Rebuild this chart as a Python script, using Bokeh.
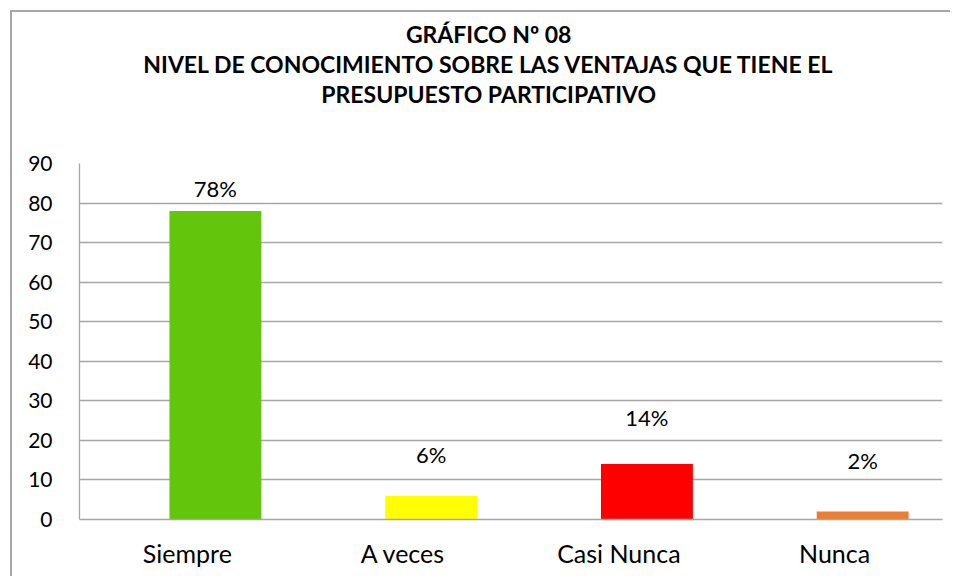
from bokeh.plotting import figure
from bokeh.models import ColumnDataSource, Title, Range1d, FixedTicker
from bokeh.transform import dodge
from bokeh.core.properties import value
from bokeh.embed import file_html
from bokeh.resources import INLINE

categories = ["Siempre", "A veces", "Casi Nunca", "Nunca"]
values = [78, 6, 14, 2]
pct_labels = ["78%", "6%", "14%", "2%"]
y_ticks = [0, 10, 20, 30, 40, 50, 60, 70, 80, 90]
title_lines = ["GRÁFICO Nº 08",
               "NIVEL DE CONOCIMIENTO SOBRE LAS VENTAJAS QUE TIENE EL",
               "PRESUPUESTO PARTICIPATIVO"]

# styles
bar_colors = ["#63C60C", "#FFFF00", "#FF0000", "#ED7D31"]
label_offsets = [5.7, 10.4, 11.8, 12.8]  # label height above bar top, in axis units
FONT = "Lato"
GRID = "#A6A6A6"
TITLE_SHIFT = "\u00a0" * 8   # nudges the centred title lines to the left

src = ColumnDataSource(dict(
    cat=categories, val=values, pct=pct_labels, color=bar_colors,
    ly=[v + o for v, o in zip(values, label_offsets)],
))

p = figure(x_range=categories, y_range=Range1d(0, 90), width=940, height=566,
           output_backend="svg", toolbar_location=None,
           min_border_left=67, min_border_right=10, min_border_top=151,
           min_border_bottom=59)
p.outline_line_color = None
p.styles = {"border-left": "2px solid #A6A6A6", "border-top": "2px solid #A6A6A6",
            "margin-left": "10px", "margin-top": "10px"}

p.vbar(x=dodge("cat", 0.13, range=p.x_range), top="val", width=0.426,
       color="color", line_color=None, source=src)
p.text(x=dodge("cat", 0.13, range=p.x_range), y="ly", text="pct", source=src,
       text_align="center", text_baseline="middle", text_font=value(FONT),
       text_font_size="22px", text_color="#000000")

p.xgrid.grid_line_color = None
p.ygrid.grid_line_color = GRID
p.ygrid.grid_line_width = 1.3
p.yaxis.ticker = FixedTicker(ticks=y_ticks)
for ax in (p.xaxis[0], p.yaxis[0]):
    ax.axis_line_color = GRID
    ax.axis_line_width = 1.3
    ax.major_tick_line_color = None
    ax.minor_tick_line_color = None
    ax.major_label_text_font = FONT
    ax.major_label_text_color = "#000000"
p.yaxis.major_label_text_font_size = "21px"
p.xaxis.major_label_text_font_size = "25px"
p.yaxis.major_label_standoff = 21
p.xaxis.major_label_standoff = 12

# spacer between the title block and the plot area, then the title lines
p.add_layout(Title(text=" ", text_font_size="10px", standoff=43), "above")
for line in reversed(title_lines):
    p.add_layout(Title(text=line + TITLE_SHIFT, align="center", text_font=FONT,
                       text_font_size="23px", text_font_style="bold",
                       text_color="#000000", standoff=0), "above")

open("out.html", "w").write(file_html(p, INLINE))
